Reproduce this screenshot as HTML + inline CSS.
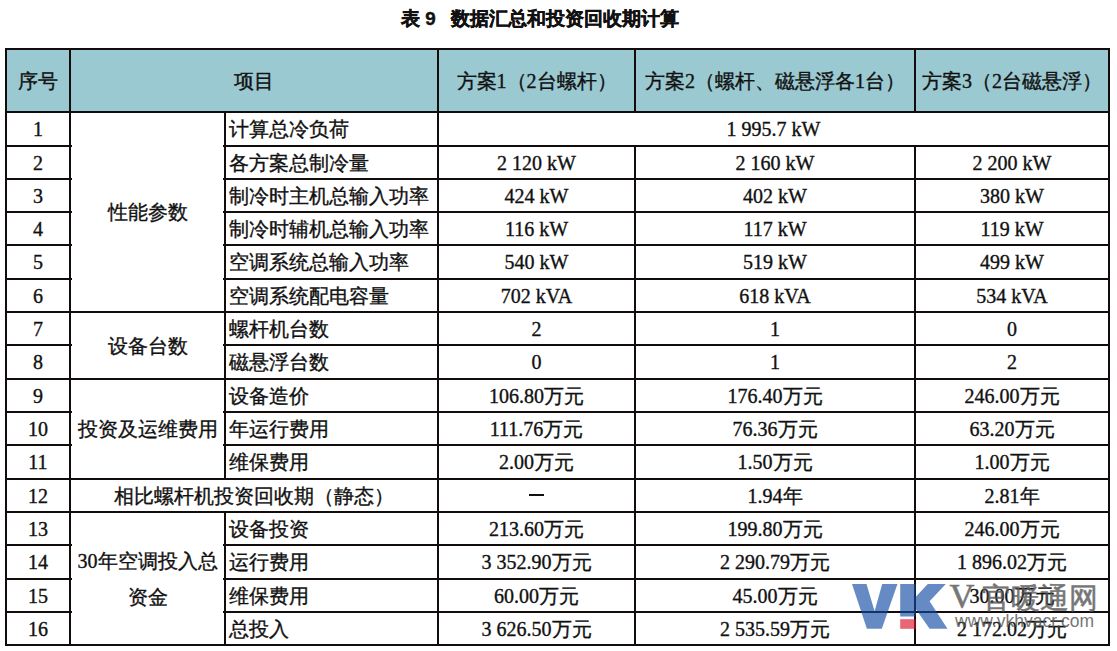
<!DOCTYPE html>
<html><head><meta charset="utf-8"><style>
html,body{margin:0;padding:0;background:#fff;width:1117px;height:651px;overflow:hidden;position:relative}
i{position:absolute;display:block}
.c{position:absolute;display:flex;align-items:center;box-sizing:border-box;font-family:"Liberation Serif",serif;font-size:20px;color:#111;white-space:nowrap;line-height:24px;-webkit-text-stroke:0.35px #111}
.t{position:absolute;left:0;top:6px;width:1117px;text-align:center;font-family:"Liberation Sans",sans-serif;font-weight:bold;font-size:18.8px;color:#111;white-space:nowrap;-webkit-text-stroke:0.4px #111}
.wm{position:absolute}
</style></head><body>
<div class="t" style="left:401px;width:auto;text-align:left">表 9&nbsp;&nbsp; 数据汇总和投资回收期计算</div>
<i style="left:5px;top:48px;width:1105px;height:65px;background:#9bc9d1"></i><i style="left:5px;top:48px;width:1105px;height:2px;background:#120c0c"></i><i style="left:5px;top:111px;width:67px;height:2px;background:#120c0c"></i><i style="left:69px;top:111px;width:157px;height:2px;background:#120c0c"></i><i style="left:223px;top:111px;width:887px;height:2px;background:#120c0c"></i><i style="left:5px;top:145px;width:67px;height:2px;background:#120c0c"></i><i style="left:223px;top:145px;width:887px;height:2px;background:#120c0c"></i><i style="left:5px;top:178px;width:67px;height:2px;background:#120c0c"></i><i style="left:223px;top:178px;width:887px;height:2px;background:#120c0c"></i><i style="left:5px;top:211px;width:67px;height:2px;background:#120c0c"></i><i style="left:223px;top:211px;width:887px;height:2px;background:#120c0c"></i><i style="left:5px;top:244px;width:67px;height:2px;background:#120c0c"></i><i style="left:223px;top:244px;width:887px;height:2px;background:#120c0c"></i><i style="left:5px;top:278px;width:67px;height:2px;background:#120c0c"></i><i style="left:223px;top:278px;width:887px;height:2px;background:#120c0c"></i><i style="left:5px;top:311px;width:67px;height:2px;background:#120c0c"></i><i style="left:69px;top:311px;width:157px;height:2px;background:#120c0c"></i><i style="left:223px;top:311px;width:887px;height:2px;background:#120c0c"></i><i style="left:5px;top:344px;width:67px;height:2px;background:#120c0c"></i><i style="left:223px;top:344px;width:887px;height:2px;background:#120c0c"></i><i style="left:5px;top:378px;width:67px;height:2px;background:#120c0c"></i><i style="left:69px;top:378px;width:157px;height:2px;background:#120c0c"></i><i style="left:223px;top:378px;width:887px;height:2px;background:#120c0c"></i><i style="left:5px;top:411px;width:67px;height:2px;background:#120c0c"></i><i style="left:223px;top:411px;width:887px;height:2px;background:#120c0c"></i><i style="left:5px;top:444px;width:67px;height:2px;background:#120c0c"></i><i style="left:223px;top:444px;width:887px;height:2px;background:#120c0c"></i><i style="left:5px;top:478px;width:67px;height:2px;background:#120c0c"></i><i style="left:69px;top:478px;width:157px;height:2px;background:#120c0c"></i><i style="left:223px;top:478px;width:887px;height:2px;background:#120c0c"></i><i style="left:5px;top:511px;width:67px;height:2px;background:#120c0c"></i><i style="left:69px;top:511px;width:157px;height:2px;background:#120c0c"></i><i style="left:223px;top:511px;width:887px;height:2px;background:#120c0c"></i><i style="left:5px;top:544px;width:67px;height:2px;background:#120c0c"></i><i style="left:223px;top:544px;width:887px;height:2px;background:#120c0c"></i><i style="left:5px;top:578px;width:67px;height:2px;background:#120c0c"></i><i style="left:223px;top:578px;width:887px;height:2px;background:#120c0c"></i><i style="left:5px;top:611px;width:67px;height:2px;background:#120c0c"></i><i style="left:223px;top:611px;width:887px;height:2px;background:#120c0c"></i><i style="left:5px;top:644px;width:67px;height:2px;background:#120c0c"></i><i style="left:69px;top:644px;width:157px;height:2px;background:#120c0c"></i><i style="left:223px;top:644px;width:887px;height:2px;background:#120c0c"></i><i style="left:5px;top:48px;width:2px;height:598px;background:#120c0c"></i><i style="left:1108px;top:48px;width:2px;height:598px;background:#120c0c"></i><i style="left:69px;top:48px;width:2px;height:598px;background:#120c0c"></i><i style="left:224px;top:111px;width:2px;height:369px;background:#120c0c"></i><i style="left:224px;top:511px;width:2px;height:135px;background:#120c0c"></i><i style="left:437px;top:48px;width:2px;height:598px;background:#120c0c"></i><i style="left:634px;top:48px;width:2px;height:65px;background:#120c0c"></i><i style="left:634px;top:145px;width:2px;height:501px;background:#120c0c"></i><i style="left:914px;top:48px;width:2px;height:65px;background:#120c0c"></i><i style="left:914px;top:145px;width:2px;height:501px;background:#120c0c"></i><i style="left:529px;top:494px;width:15px;height:2px;background:#111"></i>
<div class="c " style="left:7px;top:50px;width:62px;height:61px;justify-content:center;padding-left:0px">序号</div><div class="c " style="left:71px;top:50px;width:366px;height:61px;justify-content:center;padding-left:0px">项目</div><div class="c " style="left:439px;top:50px;width:195px;height:61px;justify-content:center;padding-left:0px">方案1（2台螺杆）</div><div class="c " style="left:636px;top:50px;width:278px;height:61px;justify-content:center;padding-left:0px">方案2（螺杆、磁悬浮各1台）</div><div class="c " style="left:916px;top:50px;width:192px;height:61px;justify-content:center;padding-left:0px">方案3（2台磁悬浮）</div><div class="c " style="left:7px;top:113px;width:62px;height:32px;justify-content:center;padding-left:0px">1</div><div class="c " style="left:226px;top:113px;width:211px;height:32px;justify-content:flex-start;padding-left:3px">计算总冷负荷</div><div class="c " style="left:439px;top:113px;width:669px;height:32px;justify-content:center;padding-left:0px">1 995.7 kW</div><div class="c " style="left:7px;top:147px;width:62px;height:31px;justify-content:center;padding-left:0px">2</div><div class="c " style="left:226px;top:147px;width:211px;height:31px;justify-content:flex-start;padding-left:3px">各方案总制冷量</div><div class="c " style="left:439px;top:147px;width:195px;height:31px;justify-content:center;padding-left:0px">2 120 kW</div><div class="c " style="left:636px;top:147px;width:278px;height:31px;justify-content:center;padding-left:0px">2 160 kW</div><div class="c " style="left:916px;top:147px;width:192px;height:31px;justify-content:center;padding-left:0px">2 200 kW</div><div class="c " style="left:7px;top:180px;width:62px;height:31px;justify-content:center;padding-left:0px">3</div><div class="c " style="left:226px;top:180px;width:211px;height:31px;justify-content:flex-start;padding-left:3px">制冷时主机总输入功率</div><div class="c " style="left:439px;top:180px;width:195px;height:31px;justify-content:center;padding-left:0px">424 kW</div><div class="c " style="left:636px;top:180px;width:278px;height:31px;justify-content:center;padding-left:0px">402 kW</div><div class="c " style="left:916px;top:180px;width:192px;height:31px;justify-content:center;padding-left:0px">380 kW</div><div class="c " style="left:7px;top:213px;width:62px;height:31px;justify-content:center;padding-left:0px">4</div><div class="c " style="left:226px;top:213px;width:211px;height:31px;justify-content:flex-start;padding-left:3px">制冷时辅机总输入功率</div><div class="c " style="left:439px;top:213px;width:195px;height:31px;justify-content:center;padding-left:0px">116 kW</div><div class="c " style="left:636px;top:213px;width:278px;height:31px;justify-content:center;padding-left:0px">117 kW</div><div class="c " style="left:916px;top:213px;width:192px;height:31px;justify-content:center;padding-left:0px">119 kW</div><div class="c " style="left:7px;top:246px;width:62px;height:32px;justify-content:center;padding-left:0px">5</div><div class="c " style="left:226px;top:246px;width:211px;height:32px;justify-content:flex-start;padding-left:3px">空调系统总输入功率</div><div class="c " style="left:439px;top:246px;width:195px;height:32px;justify-content:center;padding-left:0px">540 kW</div><div class="c " style="left:636px;top:246px;width:278px;height:32px;justify-content:center;padding-left:0px">519 kW</div><div class="c " style="left:916px;top:246px;width:192px;height:32px;justify-content:center;padding-left:0px">499 kW</div><div class="c " style="left:7px;top:280px;width:62px;height:31px;justify-content:center;padding-left:0px">6</div><div class="c " style="left:226px;top:280px;width:211px;height:31px;justify-content:flex-start;padding-left:3px">空调系统配电容量</div><div class="c " style="left:439px;top:280px;width:195px;height:31px;justify-content:center;padding-left:0px">702 kVA</div><div class="c " style="left:636px;top:280px;width:278px;height:31px;justify-content:center;padding-left:0px">618 kVA</div><div class="c " style="left:916px;top:280px;width:192px;height:31px;justify-content:center;padding-left:0px">534 kVA</div><div class="c " style="left:7px;top:313px;width:62px;height:31px;justify-content:center;padding-left:0px">7</div><div class="c " style="left:226px;top:313px;width:211px;height:31px;justify-content:flex-start;padding-left:3px">螺杆机台数</div><div class="c " style="left:439px;top:313px;width:195px;height:31px;justify-content:center;padding-left:0px">2</div><div class="c " style="left:636px;top:313px;width:278px;height:31px;justify-content:center;padding-left:0px">1</div><div class="c " style="left:916px;top:313px;width:192px;height:31px;justify-content:center;padding-left:0px">0</div><div class="c " style="left:7px;top:346px;width:62px;height:32px;justify-content:center;padding-left:0px">8</div><div class="c " style="left:226px;top:346px;width:211px;height:32px;justify-content:flex-start;padding-left:3px">磁悬浮台数</div><div class="c " style="left:439px;top:346px;width:195px;height:32px;justify-content:center;padding-left:0px">0</div><div class="c " style="left:636px;top:346px;width:278px;height:32px;justify-content:center;padding-left:0px">1</div><div class="c " style="left:916px;top:346px;width:192px;height:32px;justify-content:center;padding-left:0px">2</div><div class="c " style="left:7px;top:380px;width:62px;height:31px;justify-content:center;padding-left:0px">9</div><div class="c " style="left:226px;top:380px;width:211px;height:31px;justify-content:flex-start;padding-left:3px">设备造价</div><div class="c " style="left:439px;top:380px;width:195px;height:31px;justify-content:center;padding-left:0px">106.80万元</div><div class="c " style="left:636px;top:380px;width:278px;height:31px;justify-content:center;padding-left:0px">176.40万元</div><div class="c " style="left:916px;top:380px;width:192px;height:31px;justify-content:center;padding-left:0px">246.00万元</div><div class="c " style="left:7px;top:413px;width:62px;height:31px;justify-content:center;padding-left:0px">10</div><div class="c " style="left:226px;top:413px;width:211px;height:31px;justify-content:flex-start;padding-left:3px">年运行费用</div><div class="c " style="left:439px;top:413px;width:195px;height:31px;justify-content:center;padding-left:0px">111.76万元</div><div class="c " style="left:636px;top:413px;width:278px;height:31px;justify-content:center;padding-left:0px">76.36万元</div><div class="c " style="left:916px;top:413px;width:192px;height:31px;justify-content:center;padding-left:0px">63.20万元</div><div class="c " style="left:7px;top:446px;width:62px;height:32px;justify-content:center;padding-left:0px">11</div><div class="c " style="left:226px;top:446px;width:211px;height:32px;justify-content:flex-start;padding-left:3px">维保费用</div><div class="c " style="left:439px;top:446px;width:195px;height:32px;justify-content:center;padding-left:0px">2.00万元</div><div class="c " style="left:636px;top:446px;width:278px;height:32px;justify-content:center;padding-left:0px">1.50万元</div><div class="c " style="left:916px;top:446px;width:192px;height:32px;justify-content:center;padding-left:0px">1.00万元</div><div class="c " style="left:7px;top:480px;width:62px;height:31px;justify-content:center;padding-left:0px">12</div><div class="c " style="left:636px;top:480px;width:278px;height:31px;justify-content:center;padding-left:0px">1.94年</div><div class="c " style="left:916px;top:480px;width:192px;height:31px;justify-content:center;padding-left:0px">2.81年</div><div class="c " style="left:7px;top:513px;width:62px;height:31px;justify-content:center;padding-left:0px">13</div><div class="c " style="left:226px;top:513px;width:211px;height:31px;justify-content:flex-start;padding-left:3px">设备投资</div><div class="c " style="left:439px;top:513px;width:195px;height:31px;justify-content:center;padding-left:0px">213.60万元</div><div class="c " style="left:636px;top:513px;width:278px;height:31px;justify-content:center;padding-left:0px">199.80万元</div><div class="c " style="left:916px;top:513px;width:192px;height:31px;justify-content:center;padding-left:0px">246.00万元</div><div class="c " style="left:7px;top:546px;width:62px;height:32px;justify-content:center;padding-left:0px">14</div><div class="c " style="left:226px;top:546px;width:211px;height:32px;justify-content:flex-start;padding-left:3px">运行费用</div><div class="c " style="left:439px;top:546px;width:195px;height:32px;justify-content:center;padding-left:0px">3 352.90万元</div><div class="c " style="left:636px;top:546px;width:278px;height:32px;justify-content:center;padding-left:0px">2 290.79万元</div><div class="c " style="left:916px;top:546px;width:192px;height:32px;justify-content:center;padding-left:0px">1 896.02万元</div><div class="c " style="left:7px;top:580px;width:62px;height:31px;justify-content:center;padding-left:0px">15</div><div class="c " style="left:226px;top:580px;width:211px;height:31px;justify-content:flex-start;padding-left:3px">维保费用</div><div class="c " style="left:439px;top:580px;width:195px;height:31px;justify-content:center;padding-left:0px">60.00万元</div><div class="c " style="left:636px;top:580px;width:278px;height:31px;justify-content:center;padding-left:0px">45.00万元</div><div class="c " style="left:916px;top:580px;width:192px;height:31px;justify-content:center;padding-left:0px">30.00万元</div><div class="c " style="left:7px;top:613px;width:62px;height:31px;justify-content:center;padding-left:0px">16</div><div class="c " style="left:226px;top:613px;width:211px;height:31px;justify-content:flex-start;padding-left:3px">总投入</div><div class="c " style="left:439px;top:613px;width:195px;height:31px;justify-content:center;padding-left:0px">3 626.50万元</div><div class="c " style="left:636px;top:613px;width:278px;height:31px;justify-content:center;padding-left:0px">2 535.59万元</div><div class="c " style="left:916px;top:613px;width:192px;height:31px;justify-content:center;padding-left:0px">2 172.02万元</div><div class="c " style="left:71px;top:113px;width:153px;height:198px;justify-content:center;padding-left:0px">性能参数</div><div class="c " style="left:71px;top:313px;width:153px;height:65px;justify-content:center;padding-left:0px">设备台数</div><div class="c " style="left:71px;top:380px;width:153px;height:98px;justify-content:center;padding-left:0px">投资及运维费用</div><div class="c " style="left:71px;top:480px;width:366px;height:31px;justify-content:center;padding-left:0px">相比螺杆机投资回收期（静态）</div><div class="c " style="left:71px;top:513px;width:153px;height:131px;justify-content:center;padding-left:0px"><span style="line-height:36px;text-align:center">30年空调投入总<br>资金</span></div>
<svg class="wm" style="left:0;top:0" width="1117" height="651" viewBox="0 0 1117 651">
<g fill="rgba(15,74,163,0.64)">
<polygon points="852,584.1 866.5,584.1 874.6,611.3 882.2,584.1 897.5,584.1 881.8,628.8 866.9,628.8"/>
<polygon points="900.2,584.1 915.8,584.1 915.8,596.8 927.8,584.1 945.8,584.1 929.6,601.2 947.5,628.8 929.6,628.8 915.8,609 915.8,616.5 900.2,616.5"/>
</g>
<rect x="900.2" y="619.2" width="15.6" height="9.6" fill="rgba(222,14,40,0.64)"/>
<g fill="#585858" opacity="0.82">
<text x="949.5" y="606.9" font-family="Liberation Serif" font-size="34.5" stroke="#585858" stroke-width="0.6">V</text>
<text x="982" y="607.5" font-family="Liberation Sans" font-size="29" stroke="#585858" stroke-width="0.5">官暖通网</text>
<text x="955" y="627" font-family="Liberation Sans" font-size="17.5">www.vkhvacr.com</text>
</g>
</svg>
</body></html>
